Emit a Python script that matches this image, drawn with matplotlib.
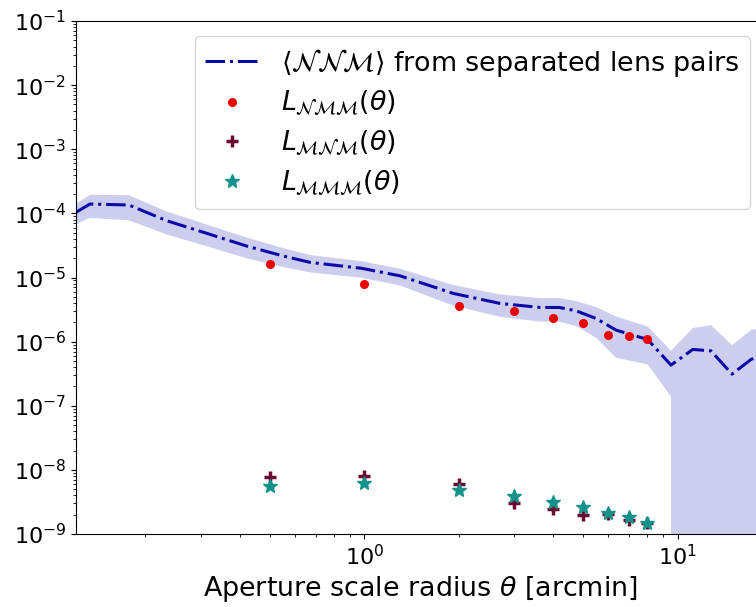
import numpy as np
import matplotlib
matplotlib.use("Agg")
import matplotlib.pyplot as plt
from matplotlib.ticker import LogLocator, NullFormatter

# <NNM> from separated lens pairs: aperture radius [arcmin], mean and 1-sigma
theta_nnm = [0.12, 0.133, 0.177, 0.234, 0.314, 0.421, 0.551, 0.671, 0.981, 1.30,
             1.92, 2.71, 3.64, 4.19, 4.74, 5.49, 6.36, 8.02, 9.52, 11.17,
             12.77, 14.91, 17.14, 19.6]
nnm_mean = [1.04e-4, 1.40e-4, 1.35e-4, 7.67e-5, 4.88e-5, 3.09e-5, 2.16e-5, 1.72e-5,
            1.39e-5, 1.06e-5, 5.65e-6, 3.94e-6, 3.41e-6, 3.41e-6, 3.02e-6, 2.30e-6,
            1.51e-6, 1.08e-6, 4.30e-7, 7.55e-7, 7.18e-7, 3.11e-7, 5.27e-7, 7.0e-7]
nnm_err = [3.6e-5, 5.5e-5, 5.7e-5, 3.0e-5, 1.8e-5, 1.1e-5, 7.1e-6, 5.2e-6,
           4.0e-6, 3.1e-6, 2.0e-6, 1.5e-6, 1.36e-6, 1.36e-6, 1.27e-6, 1.15e-6,
           9.5e-7, 6.4e-7, 2.9e-7, 8.7e-7, 1.09e-6, 5.7e-7, 9.9e-7, 1.0e-6]

# lens-lens-source statistics at the measured aperture radii
theta_pts = [0.5, 1, 2, 3, 4, 5, 6, 7, 8]
L_nmm = [1.62e-5, 7.98e-6, 3.62e-6, 3.03e-6, 2.30e-6, 1.92e-6, 1.29e-6, 1.22e-6, 1.09e-6]
L_mnm = [7.78e-9, 8.06e-9, 5.92e-9, 2.99e-9, 2.44e-9, 1.96e-9, 2.06e-9, 1.68e-9, 1.46e-9]
L_mmm = [5.62e-9, 6.14e-9, 4.82e-9, 3.89e-9, 3.16e-9, 2.59e-9, 2.14e-9, 1.81e-9, 1.51e-9]

th = np.array(theta_nnm)
m = np.array(nnm_mean)
e = np.array(nnm_err)

fig = plt.figure(figsize=(7.56, 6.07), dpi=100)
ax = fig.add_axes([76 / 756, 73 / 607, 689 / 756, 513 / 607])

# lower edge goes negative at large radii -> log axis clips it to the bottom
ax.fill_between(th, m - e, m + e, color="#cdcdee", lw=0)
ax.plot(th, m, ls="-.", color="#0a0aa8", lw=2.2,
        label=r"$\langle\mathcal{NNM}\rangle$ from separated lens pairs")
ax.plot(theta_pts, L_nmm, "o", color="#ee0000", ms=5.5, ls="none",
        label=r"$L_{\mathcal{NMM}}(\theta)$")
ax.plot(theta_pts, L_mnm, "+", color="#6a0a30", ms=9, mew=2.5, ls="none",
        label=r"$L_{\mathcal{MNM}}(\theta)$")
ax.plot(theta_pts, L_mmm, "*", color="#12928a", ms=10, ls="none",
        label=r"$L_{\mathcal{MMM}}(\theta)$")

ax.set_xscale("log")
ax.set_yscale("log")
ax.set_xlim(0.12, 19.0)
ax.set_ylim(1e-9, 1e-1)
ax.yaxis.set_major_locator(LogLocator(base=10, numticks=20))
ax.yaxis.set_minor_locator(LogLocator(base=10, subs=np.arange(2, 10), numticks=100))
ax.yaxis.set_minor_formatter(NullFormatter())
ax.tick_params(labelsize=16)
ax.set_xlabel(r"Aperture scale radius $\theta$ [arcmin]", fontsize=19.4)

ax.legend(loc="upper right", fontsize=19.4, labelspacing=0.4, borderaxespad=0.55)

fig.savefig("out.png", dpi=100)
